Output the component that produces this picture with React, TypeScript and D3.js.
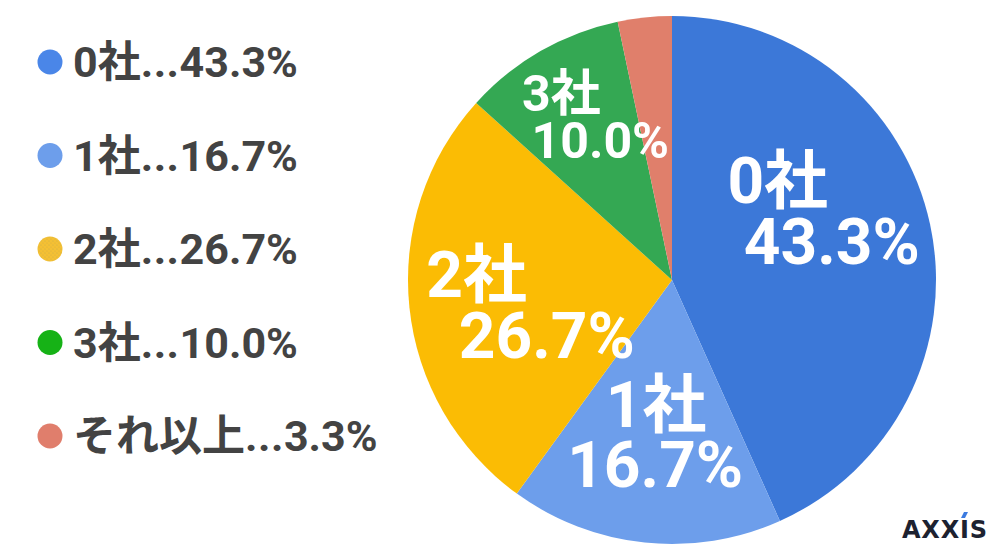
import React from "react";
import * as d3 from "d3";

const categories = ["0社", "1社", "2社", "3社", "それ以上"];
const values = [43.3, 16.7, 26.7, 10.0, 3.3];
const valueLabels = ["43.3%", "16.7%", "26.7%", "10.0%", "3.3%"];
const sliceColors = ["#3c78d8", "#6d9eeb", "#fbbc04", "#34a853", "#e07f6b"];
const legendColors = ["#4a86e8", "#6d9eeb", "url(#yellowDots)", "#16b216", "#e07e6c"];

// label layout (style): radius factor, line x-offsets, vertical shift, font size
const labelRadius = [0.58, 0.58, 0.58, 0.72, 0];
const labelDx1 = [-44, 0, -43, -16, 0];
const labelDx2 = [10, -1, 27, 23, 0];
const labelDy = [-39, 0, 7, 0, 0];
const labelSize = [64, 64, 64, 50, 0];

const W = 1000;
const H = 560;
const cx = 672;
const cy = 280;
const R = 264;

export default function App() {
  const pie = d3
    .pie<number>()
    .sort(null)
    .value((d) => d)
    .startAngle(0)
    .endAngle(2 * Math.PI);
  const arcs = pie(values);
  const arc = d3.arc<d3.PieArcDatum<number>>().innerRadius(0).outerRadius(R);

  const legendY = d3
    .scalePoint<string>()
    .domain(categories)
    .range([62, 436]);

  const font = "Roboto, 'Noto Sans CJK JP', sans-serif";

  return (
    <svg
      width={W}
      height={H}
      viewBox={`0 0 ${W} ${H}`}
      style={{ position: "absolute", left: 0, top: 0, background: "#fff" }}
    >
      <defs>
        <pattern id="yellowDots" width="4" height="4" patternUnits="userSpaceOnUse">
          <rect width="4" height="4" fill="#f4c033" />
          <circle cx="1" cy="1" r="0.6" fill="#c9ae4e" />
          <circle cx="3" cy="3" r="0.6" fill="#d9b040" />
        </pattern>
      </defs>
      <rect width={W} height={H} fill="#fff" />
      <g transform={`translate(${cx},${cy})`}>
        {arcs.map((a, i) => (
          <path key={i} d={arc(a) || ""} fill={sliceColors[i]} />
        ))}
        {arcs.map((a, i) => {
          if (!labelRadius[i]) return null;
          const lr = R * labelRadius[i];
          const la = d3.arc<d3.PieArcDatum<number>>().innerRadius(0).outerRadius(lr * 2);
          const [x, y] = la.centroid(a);
          const fs = labelSize[i];
          const gap = fs * 0.95;
          const b1 = y + labelDy[i] - fs * 0.09;
          return (
            <g
              key={"l" + i}
              fill="#fff"
              fontFamily={font}
              fontWeight="bold"
              fontSize={fs}
              textAnchor="middle"
            >
              <text x={x + labelDx1[i]} y={b1}>
                {categories[i]}
              </text>
              <text x={x + labelDx2[i]} y={b1 + gap}>
                {valueLabels[i]}
              </text>
            </g>
          );
        })}
      </g>
      <g>
        {categories.map((c, i) => {
          const y = legendY(c) as number;
          return (
            <g key={"lg" + i}>
              <circle cx={50} cy={y} r={12.5} fill={legendColors[i]} />
              <text
                x={73}
                y={y + 15}
                fontFamily={font}
                fontWeight="bold"
                fontSize={43}
                fill="#434343"
              >
                {c}
                <tspan letterSpacing={0.5}>...</tspan>
                {valueLabels[i]}
              </text>
            </g>
          );
        })}
      </g>
      <g>
        <text
          x={902}
          y={538}
          fontFamily="'DejaVu Sans', sans-serif"
          fontWeight="bold"
          fontSize={24}
          letterSpacing={0.8}
          fill="#1d2230"
        >
          AXXIS
        </text>
        <polygon points="961,518 965,518 968,512 964,512" fill="#3c7be0" />
      </g>
    </svg>
  );
}
